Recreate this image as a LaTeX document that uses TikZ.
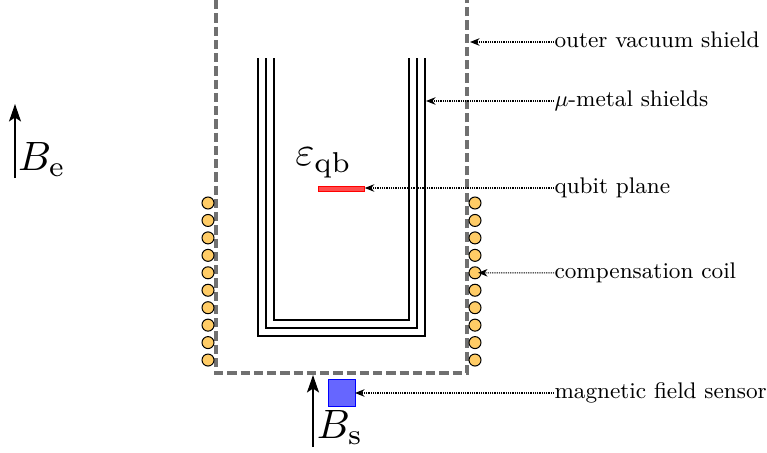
\documentclass[tikz,border=0pt]{standalone}
\usepackage{amsmath,amssymb}
\usetikzlibrary{arrows.meta,positioning}
\definecolor{shieldgray}{RGB}{112,112,112}
\definecolor{coilfill}{RGB}{255,204,102}
\tikzset{
  lab/.style={anchor=west,inner xsep=0pt,inner ysep=0pt,text height=6pt,text depth=2pt,font=\fontsize{9.05}{11}\selectfont},
  fieldlab/.style={inner sep=0pt,font=\normalsize,scale=1.64},
  vacuum/.style={draw=shieldgray,line width=1.9pt,dash pattern=on 3.7pt off 1.6pt},
  metal/.style={draw=black,line width=.8pt},
  coil/.style={circle,draw=black,fill=coilfill,line width=.4pt,minimum size=4.8pt,inner sep=0pt,outer sep=0pt},
  ptr/.style={-{Stealth[length=3.8pt,width=3pt,inset=1.2pt]},dash pattern=on .45pt off .45pt,line width=.45pt},
  field/.style={-{Stealth[length=7pt,width=4.8pt,inset=1.6pt]},line width=.7pt},
}
\begin{document}
\begin{tikzpicture}[x=.4pt,y=-.4pt]
\useasboundingbox (0,0) rectangle (767,453);
% shields
\draw[vacuum] (216,0) -- (216,373) -- (467,373) -- (467,0);
\foreach \a/\b/\c in {274/409/320,266/417/328,258/425/336}{
  \draw[metal] (\a,58) -- (\a,\c) -- (\b,\c) -- (\b,58);}
% coil windings
\foreach \i in {0,...,9}{
  \node[coil] (cl\i) at (208,203+17.45*\i) {};
  \node[coil] (cr\i) at (475,203+17.45*\i) {};}
% qubit and sensor
\node[draw=red,fill=red!70,line width=.4pt,minimum width=18.6pt,minimum height=1.7pt,inner sep=0pt,outer sep=0pt] (qb) at (341.5,189) {};
\node[draw=blue,fill=blue!60,line width=.4pt,minimum size=10.8pt,inner sep=0pt,outer sep=0pt] (sensor) at (341.5,392.5) {};
\node[fieldlab] (eqb) at (323.5,163) {$\varepsilon_{\text{qb}}$};
% fields
\coordinate (be0) at (15,178);
\coordinate (be1) at (15,104);
\coordinate (bs0) at (313,447);
\coordinate (bs1) at (313,375);
\draw[field] (be0) -- (be1);
\draw[field] (bs0) -- (bs1);
\node[fieldlab] (be) at (42,160) {$B_{\text{e}}$};
\node[fieldlab] (bs) at (340,428) {$B_{\text{s}}$};
% labels
\node[lab] (lvac) at (554,42) {outer vacuum shield};
\node[lab] (lmu) at (554,101) {$\mu$-metal shields};
\node[lab] (lqb) at (554,188) {qubit plane};
\node[lab] (lcoil) at (554,273) {compensation coil};
\node[lab] (lsens) at (554,393) {magnetic field sensor};
\coordinate (tvac) at (470,42);
\coordinate (tmu) at (426,101);
\draw[ptr] (lvac) -- (tvac);
\draw[ptr] (lmu) -- (tmu);
\draw[ptr] (lqb) -- (lqb -| qb.east);
\draw[ptr,shorten >=-1.2pt] (lcoil) -- (cr4);
\draw[ptr] (lsens) -- (lsens -| sensor.east);
\end{tikzpicture}
\end{document}
